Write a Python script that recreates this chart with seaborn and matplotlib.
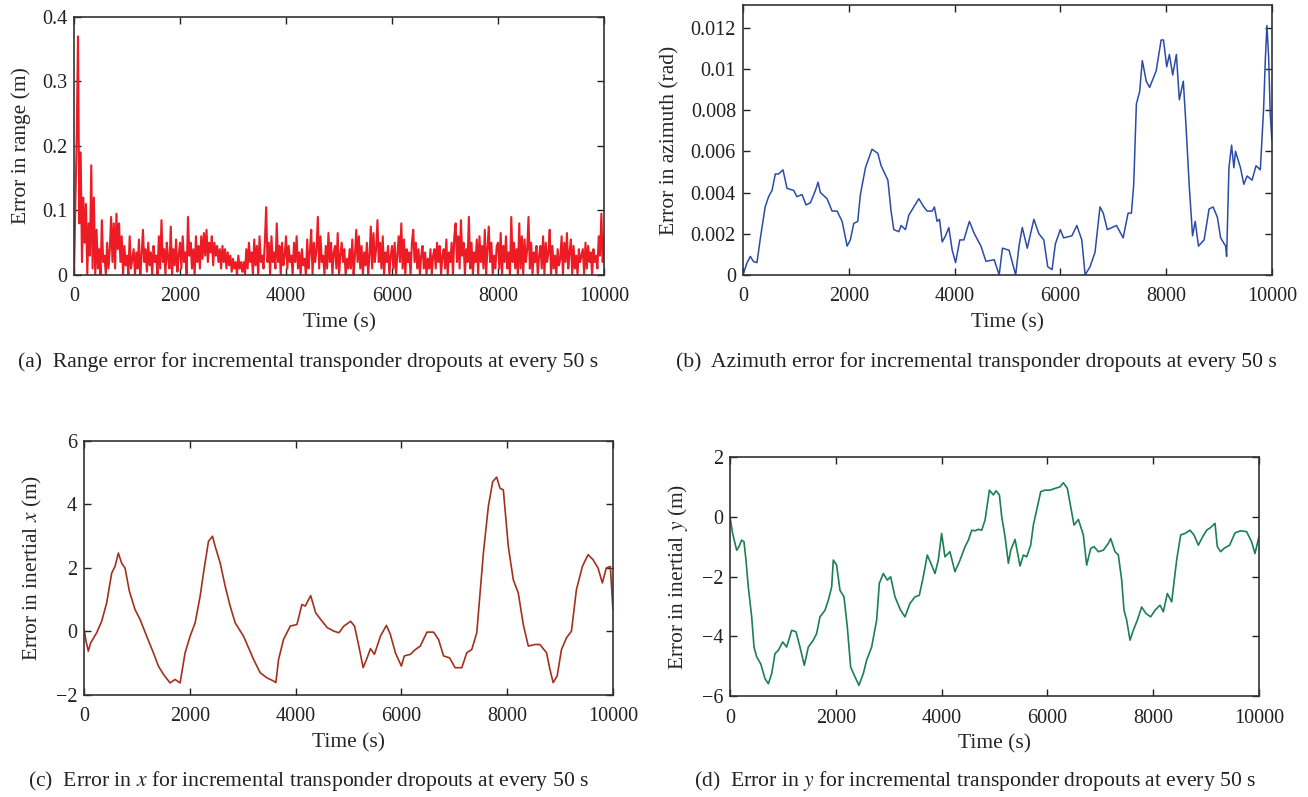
import numpy as np
import pandas as pd
import matplotlib
matplotlib.use('Agg')
import matplotlib.pyplot as plt
import seaborn as sns

# (a) range error, sampled every 25 s
range_t = np.arange(0, 10001, 25)
range_err = [
    0.0, 0.11, 0.21, 0.37, 0.08, 0.19, 0.02, 0.12, 0.05, 0.11, 0.0, 0.08, 0.03, 0.17, 0.01, 0.12,
    0.0, 0.07, 0.01, 0.04, 0.0, 0.085, 0.02, 0.03, 0.0, 0.05, 0.01, 0.04, 0.09, 0.02, 0.08, 0.01,
    0.095, 0.04, 0.08, 0.02, 0.06, 0.0, 0.045, 0.015, 0.03, 0.0, 0.06, 0.01, 0.025, 0.04, 0.0, 0.035,
    0.01, 0.055, 0.0, 0.03, 0.07, 0.02, 0.04, 0.005, 0.05, 0.015, 0.035, 0.0, 0.045, 0.02, 0.03, 0.0,
    0.06, 0.01, 0.085, 0.02, 0.04, 0.0, 0.05, 0.025, 0.01, 0.075, 0.0, 0.04, 0.015, 0.055, 0.005, 0.03,
    0.05, 0.01, 0.06, 0.02, 0.035, 0.0, 0.09, 0.03, 0.05, 0.01, 0.04, 0.0, 0.06, 0.02, 0.045, 0.01,
    0.06, 0.025, 0.065, 0.03, 0.07, 0.02, 0.05, 0.035, 0.06, 0.015, 0.05, 0.03, 0.045, 0.02, 0.04, 0.01,
    0.045, 0.02, 0.04, 0.01, 0.035, 0.015, 0.03, 0.005, 0.025, 0.01, 0.02, 0.0, 0.03, 0.01, 0.02, 0.005,
    0.02, 0.0, 0.04, 0.01, 0.05, 0.02, 0.035, 0.0, 0.055, 0.015, 0.045, 0.0, 0.06, 0.02, 0.03, 0.01,
    0.05, 0.105, 0.02, 0.05, 0.0, 0.06, 0.02, 0.035, 0.01, 0.08, 0.02, 0.045, 0.0, 0.05, 0.015, 0.03,
    0.06, 0.01, 0.045, 0.02, 0.03, 0.0, 0.05, 0.02, 0.06, 0.01, 0.035, 0.0, 0.04, 0.015, 0.025, 0.0,
    0.055, 0.01, 0.035, 0.07, 0.0, 0.05, 0.02, 0.04, 0.09, 0.01, 0.06, 0.02, 0.03, 0.0, 0.045, 0.01,
    0.065, 0.02, 0.05, 0.0, 0.035, 0.045, 0.01, 0.065, 0.0, 0.03, 0.05, 0.02, 0.04, 0.0, 0.025, 0.01,
    0.04, 0.01, 0.055, 0.0, 0.03, 0.07, 0.02, 0.06, 0.01, 0.045, 0.0, 0.035, 0.015, 0.05, 0.0, 0.03,
    0.075, 0.01, 0.065, 0.02, 0.04, 0.085, 0.02, 0.05, 0.01, 0.06, 0.0, 0.035, 0.02, 0.045, 0.0, 0.03,
    0.045, 0.01, 0.05, 0.0, 0.03, 0.06, 0.02, 0.08, 0.01, 0.055, 0.0, 0.04, 0.02, 0.035, 0.0, 0.05,
    0.07, 0.02, 0.05, 0.01, 0.04, 0.0, 0.03, 0.045, 0.01, 0.035, 0.0, 0.025, 0.01, 0.04, 0.0, 0.03,
    0.04, 0.01, 0.05, 0.02, 0.045, 0.0, 0.03, 0.04, 0.01, 0.055, 0.0, 0.035, 0.02, 0.05, 0.0, 0.06,
    0.08, 0.02, 0.06, 0.01, 0.085, 0.03, 0.05, 0.0, 0.04, 0.02, 0.09, 0.01, 0.05, 0.0, 0.035, 0.02,
    0.055, 0.0, 0.06, 0.02, 0.045, 0.01, 0.07, 0.0, 0.04, 0.075, 0.02, 0.05, 0.0, 0.03, 0.01, 0.045,
    0.05, 0.01, 0.065, 0.0, 0.045, 0.02, 0.06, 0.01, 0.035, 0.0, 0.09, 0.02, 0.05, 0.01, 0.04, 0.0,
    0.08, 0.01, 0.06, 0.0, 0.055, 0.02, 0.04, 0.09, 0.01, 0.05, 0.0, 0.035, 0.02, 0.045, 0.0, 0.03,
    0.045, 0.01, 0.06, 0.0, 0.05, 0.02, 0.035, 0.07, 0.0, 0.045, 0.01, 0.03, 0.0, 0.04, 0.015, 0.025,
    0.06, 0.0, 0.05, 0.02, 0.065, 0.01, 0.035, 0.055, 0.0, 0.045, 0.01, 0.03, 0.0, 0.04, 0.02, 0.03,
    0.04, 0.0, 0.05, 0.01, 0.045, 0.02, 0.035, 0.0, 0.04, 0.02, 0.03, 0.01, 0.06, 0.03, 0.095, 0.02,
    0.06,
]

# (b) azimuth error
az_t = [0, 76, 139, 200, 265, 330, 420, 485, 550, 612, 675, 757, 833, 960, 1020,
        1117, 1193, 1275, 1370, 1420, 1464, 1590, 1685, 1780, 1875, 1970, 2030,
        2095, 2170, 2220, 2316, 2440, 2550, 2612, 2740, 2800, 2852, 2947, 2990,
        3073, 3136, 3230, 3325, 3420, 3483, 3578, 3620, 3670, 3717, 3767, 3830,
        3893, 3956, 4020, 4100, 4177, 4281, 4375, 4500, 4594, 4750, 4844, 4906,
        5031, 5094, 5156, 5219, 5281, 5375, 5500, 5594, 5688, 5762, 5844, 5906,
        6000, 6062, 6219, 6312, 6406, 6469, 6562, 6656, 6750, 6812, 6888, 7062,
        7188, 7281, 7344, 7388, 7438, 7500, 7550, 7625, 7688, 7812, 7906, 7950,
        8012, 8062, 8125, 8194, 8250, 8325, 8375, 8438, 8500, 8550, 8612, 8719,
        8812, 8888, 8969, 9031, 9125, 9144, 9188, 9238, 9281, 9312, 9406, 9469,
        9531, 9625, 9700, 9781, 9844, 9875, 9906, 9938, 9969, 10000]
az_err = [0.0, 0.00058, 0.0009, 0.00065, 0.0006, 0.0018, 0.0033, 0.0038, 0.0041,
          0.0049, 0.0049, 0.0051, 0.0042, 0.0041, 0.0038, 0.0039, 0.0034, 0.0035,
          0.0041, 0.0045, 0.0040, 0.0037, 0.0031, 0.0031, 0.0026, 0.0014, 0.0017,
          0.0025, 0.0026, 0.0039, 0.0052, 0.0061, 0.0059, 0.0053, 0.0046, 0.0031,
          0.0022, 0.0021, 0.0024, 0.0022, 0.0029, 0.0033, 0.0037, 0.0033, 0.0031,
          0.0031, 0.0033, 0.0026, 0.0027, 0.0016, 0.0019, 0.0023, 0.0012, 0.0006,
          0.0017, 0.0017, 0.0026, 0.0020, 0.0014, 0.00066, 0.00074, 0.0, 0.0013,
          0.0012, 0.0006, 0.0, 0.0014, 0.0023, 0.0013, 0.0027, 0.0020, 0.0017,
          0.0004, 0.00026, 0.0015, 0.0022, 0.0018, 0.0019, 0.0024, 0.0017, 0.0,
          0.0004, 0.0011, 0.0033, 0.0030, 0.0022, 0.0024, 0.0018, 0.0030, 0.0030,
          0.0044, 0.0083, 0.0089, 0.0104, 0.0094, 0.0091, 0.0099, 0.0114, 0.0114,
          0.0101, 0.0107, 0.0097, 0.0107, 0.0085, 0.0094, 0.0073, 0.0043, 0.0019,
          0.0026, 0.0014, 0.0017, 0.0032, 0.0033, 0.0028, 0.0018, 0.0014, 0.0009,
          0.0052, 0.0063, 0.0052, 0.0060, 0.0052, 0.0044, 0.0048, 0.0046, 0.0053,
          0.0051, 0.0081, 0.0104, 0.0121, 0.0106, 0.0078, 0.0065]

# (c) error in inertial x
x_t = [0, 38, 82, 126, 240, 334, 429, 524, 587, 650, 713, 776, 858, 965, 1060,
       1186, 1312, 1407, 1502, 1628, 1722, 1817, 1912, 2006, 2101, 2196, 2259,
       2354, 2430, 2480, 2575, 2670, 2764, 2859, 3017, 3206, 3332, 3458, 3584,
       3628, 3679, 3773, 3900, 4026, 4120, 4183, 4286, 4380, 4474, 4600, 4725,
       4820, 4914, 5040, 5115, 5196, 5278, 5353, 5416, 5491, 5604, 5717, 5792,
       5887, 6000, 6056, 6170, 6264, 6358, 6484, 6609, 6703, 6798, 6911, 7017,
       7143, 7237, 7331, 7426, 7551, 7645, 7727, 7802, 7865, 7928, 8022, 8116,
       8211, 8305, 8400, 8526, 8619, 8745, 8808, 8870, 8946, 9027, 9121, 9216,
       9310, 9423, 9530, 9624, 9718, 9800, 9875, 9951, 10000]
x_err = [0.11, -0.3, -0.62, -0.36, -0.04, 0.32, 0.9, 1.84, 2.05, 2.47, 2.15, 2.0,
         1.27, 0.69, 0.38, -0.15, -0.67, -1.09, -1.35, -1.62, -1.51, -1.62, -0.67,
         -0.15, 0.27, 1.11, 1.84, 2.84, 3.0, 2.68, 2.16, 1.42, 0.8, 0.27, -0.15,
         -0.88, -1.3, -1.46, -1.56, -1.61, -0.88, -0.25, 0.17, 0.22, 0.85, 0.8,
         1.13, 0.59, 0.38, 0.12, 0.01, -0.04, 0.17, 0.32, 0.17, -0.46, -1.14,
         -0.83, -0.54, -0.72, -0.15, 0.19, -0.09, -0.67, -1.09, -0.77, -0.72,
         -0.57, -0.46, -0.02, -0.02, -0.25, -0.77, -0.83, -1.14, -1.14, -0.67,
         -0.57, -0.04, 2.47, 3.94, 4.72, 4.86, 4.51, 4.46, 2.68, 1.63, 1.21, 0.22,
         -0.46, -0.41, -0.41, -0.67, -1.19, -1.61, -1.4, -0.57, -0.2, 0.01, 1.32,
         2.05, 2.42, 2.26, 2.0, 1.53, 2.0, 2.05, 0.69]

# (d) error in inertial y
y_t = [0, 50, 126, 170, 220, 265, 302, 346, 410, 454, 504, 580, 662, 725, 788,
       851, 914, 996, 1071, 1166, 1248, 1323, 1405, 1481, 1575, 1638, 1701, 1796,
       1859, 1922, 1953, 2016, 2079, 2155, 2218, 2281, 2363, 2438, 2520, 2583,
       2678, 2772, 2823, 2898, 2974, 3037, 3119, 3226, 3308, 3402, 3497, 3579,
       3654, 3730, 3812, 3875, 3938, 4001, 4064, 4158, 4253, 4349, 4444, 4507,
       4570, 4633, 4696, 4759, 4822, 4904, 4980, 5030, 5093, 5137, 5200, 5263,
       5307, 5389, 5420, 5483, 5546, 5609, 5685, 5735, 5798, 5874, 5956, 6050,
       6145, 6239, 6302, 6378, 6441, 6504, 6586, 6680, 6743, 6819, 6882, 6964,
       7058, 7153, 7197, 7279, 7342, 7405, 7449, 7499, 7562, 7625, 7701, 7783,
       7865, 7953, 8035, 8129, 8192, 8268, 8350, 8394, 8444, 8520, 8602, 8696,
       8772, 8854, 8936, 9012, 9087, 9169, 9213, 9276, 9339, 9446, 9547, 9654,
       9767, 9862, 9925, 10000]
y_err = [0.0, -0.56, -1.12, -1.0, -0.78, -0.84, -1.45, -2.35, -3.35, -4.36, -4.69,
         -4.92, -5.42, -5.59, -5.25, -4.58, -4.47, -4.19, -4.36, -3.8, -3.85,
         -4.36, -4.97, -4.36, -4.13, -3.91, -3.35, -3.13, -2.79, -2.35, -1.45,
         -1.62, -2.46, -2.68, -3.69, -5.03, -5.36, -5.64, -5.25, -4.8, -4.36,
         -3.46, -2.23, -1.9, -2.12, -2.01, -2.68, -3.13, -3.35, -2.9, -2.68, -2.63,
         -2.01, -1.28, -1.62, -1.9, -1.45, -0.56, -1.34, -1.17, -1.84, -1.45, -1.0,
         -0.78, -0.45, -0.47, -0.42, -0.45, -0.11, 0.89, 0.73, 0.87, 0.73, 0.0,
         -0.67, -1.56, -1.12, -0.76, -1.06, -1.65, -1.28, -1.34, -0.95, -0.28,
         0.22, 0.84, 0.89, 0.89, 0.95, 1.0, 1.14, 0.95, 0.34, -0.28, -0.09, -0.61,
         -1.62, -1.06, -1.0, -1.17, -1.12, -0.89, -0.73, -1.17, -1.28, -2.12,
         -3.13, -3.46, -4.13, -3.8, -3.46, -3.02, -3.24, -3.35, -3.13, -2.96,
         -3.18, -2.57, -2.85, -2.18, -1.45, -0.61, -0.56, -0.45, -0.61, -0.95,
         -0.67, -0.45, -0.36, -0.22, -1.0, -1.17, -1.06, -0.95, -0.54, -0.47,
         -0.5, -0.84, -1.23, -0.67]

captions = [
    '(a)  Range error for incremental transponder dropouts at every 50 s',
    '(b)  Azimuth error for incremental transponder dropouts at every 50 s',
    '(c)  Error in $x$ for incremental transponder dropouts at every 50 s',
    '(d)  Error in $y$ for incremental transponder dropouts at every 50 s',
]

sns.set_theme(style='ticks')
plt.rcParams['font.family'] = ['Liberation Serif', 'DejaVu Serif']
plt.rcParams['mathtext.fontset'] = 'stix'

fig = plt.figure(figsize=(13.08, 7.97), dpi=100)

panels = [
    # rect, t, values, colour, lw, ylim, yticks, yticklabels, ylabel
    ([0.0566, 0.655, 0.4052, 0.3237], range_t, range_err, '#ED1C24', 1.5,
     (0, 0.4), [0, 0.1, 0.2, 0.3, 0.4], ['0', '0.1', '0.2', '0.3', '0.4'],
     'Error in range (m)'),
    ([0.568, 0.655, 0.4044, 0.3388], az_t, az_err, '#2B4BA8', 1.1,
     (0, 0.0131), [0, 0.002, 0.004, 0.006, 0.008, 0.01, 0.012],
     ['0', '0.002', '0.004', '0.006', '0.008', '0.01', '0.012'],
     'Error in azimuth (rad)'),
    ([0.0642, 0.128, 0.4044, 0.3187], x_t, x_err, '#A3301E', 1.2,
     (-2, 6), [-2, 0, 2, 4, 6], ['\u22122', '0', '2', '4', '6'],
     'Error in inertial $x$ (m)'),
    ([0.5581, 0.1267, 0.4044, 0.2999], y_t, y_err, '#1B8052', 1.2,
     (-6, 2), [-6, -4, -2, 0, 2], ['\u22126', '\u22124', '\u22122', '0', '2'],
     'Error in inertial $y$ (m)'),
]

cap_pos = [(0.2355, 0.546), (0.7462, 0.546), (0.2355, 0.02), (0.7455, 0.02)]

for (rect, t, vals, col, lw, ylim, yt, ytl, ylab), cap, cp in zip(panels, captions, cap_pos):
    ax = fig.add_axes(rect)
    df = pd.DataFrame({'t': t, 'v': vals})
    sns.lineplot(data=df, x='t', y='v', ax=ax, color=col, linewidth=lw)
    ax.set_xlim(0, 10000)
    ax.set_ylim(*ylim)
    ax.set_xticks([0, 2000, 4000, 6000, 8000, 10000])
    ax.set_xticklabels(['0', '2000', '4000', '6000', '8000', '10000'])
    ax.set_yticks(yt)
    ax.set_yticklabels(ytl)
    ax.tick_params(direction='in', top=True, right=True, length=5, width=1,
                   labelsize=14.5, colors='#222222')
    ax.tick_params(axis='x', pad=9)
    ax.tick_params(axis='y', pad=5)
    for s in ax.spines.values():
        s.set_color('#333333')
        s.set_linewidth(1.2)
    ax.set_xlabel('Time (s)', fontsize=15.5, labelpad=5)
    ax.set_ylabel(ylab, fontsize=15.5, labelpad=8)
    fig.text(cp[0], cp[1], cap, ha='center', va='center', fontsize=15.6, color='#222222')

fig.savefig('out.png', dpi=100)
